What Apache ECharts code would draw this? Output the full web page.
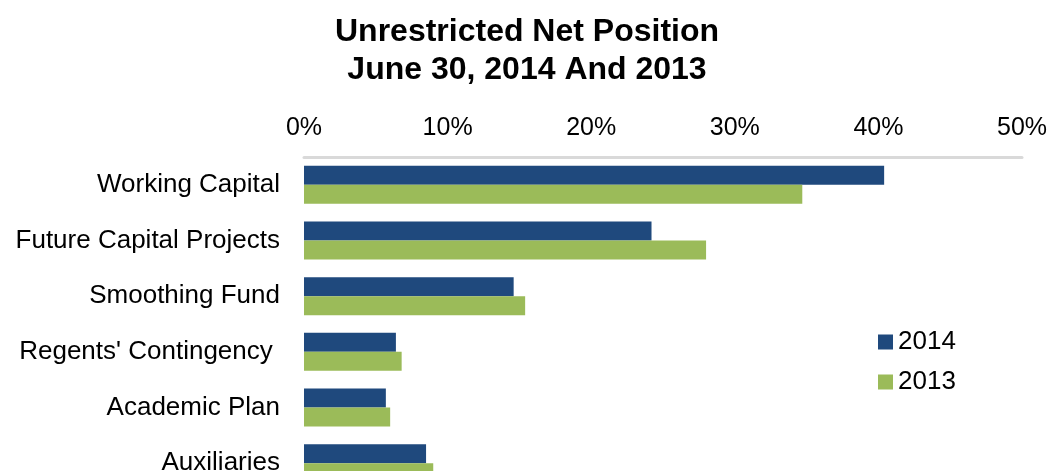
<!DOCTYPE html>
<html>
<head>
<meta charset="utf-8">
<script src="https://cdn.jsdelivr.net/npm/echarts@6/dist/echarts.min.js"></script>
<style>
  html, body { margin: 0; padding: 0; background: #fff; }
  #chart { width: 1050px; height: 471px; }
</style>
</head>
<body>
<div id="chart"></div>
<script>
// categories, top to bottom
const categories = ['Working Capital', 'Future Capital Projects', 'Smoothing Fund', "Regents' Contingency ", 'Academic Plan', 'Auxiliaries']
// percent of unrestricted net position
const values2014 = [40.4, 24.2, 14.6, 6.4, 5.7, 8.5]
const values2013 = [34.7, 28.0, 15.4, 6.8, 6.0, 9.0]

const chart = echarts.init(document.getElementById('chart'))
const font = 'Liberation Sans, Arial, sans-serif'

const option = {
  animation: false,
  title: {
    text: 'Unrestricted Net Position\nJune 30, 2014 And 2013',
    left: 522,
    textAlign: 'center',
    top: 8,
    textStyle: {
      fontFamily: font,
      fontSize: 32,
      fontWeight: 'bold',
      color: '#000',
      lineHeight: 38
    }
  },
  legend: {
    orient: 'vertical',
    left: 873,
    top: 324,
    itemWidth: 15,
    itemHeight: 15,
    itemGap: 14,
    itemTextGap: 7,
    icon: 'rect',
    textStyle: { fontFamily: font, fontSize: 26, color: '#000' },
    data: ['2014', '2013']
  },
  grid: {
    left: 304,
    right: 28,
    top: 157,
    height: 334,
    containLabel: false,
    outerBoundsMode: 'none'
  },
  xAxis: {
    type: 'value',
    position: 'top',
    min: 0,
    max: 50,
    interval: 10,
    axisLine: { show: true, lineStyle: { color: '#D9D9D9', width: 3 } },
    axisTick: { show: false },
    splitLine: { show: false },
    axisLabel: {
      formatter: '{value}%',
      fontFamily: font,
      fontSize: 25,
      color: '#000',
      margin: 16
    }
  },
  yAxis: {
    type: 'category',
    inverse: true,
    data: categories,
    axisLine: { show: false },
    axisTick: { show: false },
    axisLabel: {
      fontFamily: font,
      fontSize: 26,
      color: '#000',
      margin: 24
    }
  },
  series: [
    {
      name: '2014',
      type: 'bar',
      data: values2014,
      barWidth: 19,
      barGap: '0%',
      itemStyle: { color: '#1F497D' }
    },
    {
      name: '2013',
      type: 'bar',
      data: values2013,
      barWidth: 19,
      itemStyle: { color: '#9BBB59' }
    }
  ]
}
option && chart.setOption(option)
</script>
</body>
</html>
